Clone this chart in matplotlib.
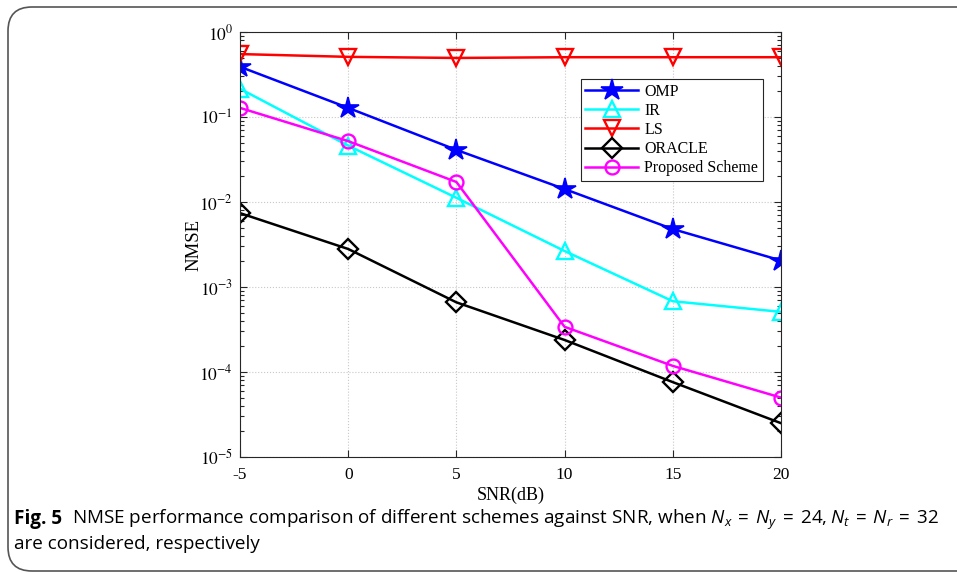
import matplotlib
matplotlib.use("Agg")
import matplotlib.pyplot as plt
from matplotlib.patches import FancyBboxPatch
from matplotlib.ticker import FuncFormatter, LogLocator
import numpy as np

snr = [-5, 0, 5, 10, 15, 20]
omp = [0.39, 0.128, 0.041, 0.0142, 0.0048, 0.00205]
ir = [0.215, 0.046, 0.0112, 0.00265, 0.00068, 0.00051]
ls = [0.55, 0.51, 0.495, 0.505, 0.505, 0.505]
oracle = [0.0074, 0.0028, 0.00066, 0.000238, 7.6e-5, 2.5e-5]
proposed = [0.128, 0.052, 0.0172, 0.00034, 0.000118, 5.0e-5]
labels = ["OMP", "IR", "LS", "ORACLE", "Proposed Scheme"]
xticks = [-5, 0, 5, 10, 15, 20]

cap_font = "Open Sans"

plt.rcParams["font.family"] = ["Liberation Serif", "DejaVu Serif"]
plt.rcParams["mathtext.fontset"] = "stix"
plt.rcParams["mathtext.rm"] = cap_font
plt.rcParams["mathtext.it"] = cap_font + ":italic"

fig = plt.figure(figsize=(9.57, 5.73), dpi=100)

# rounded border
border = FancyBboxPatch((8 / 957, 2 / 573), 1.2, 564 / 573,
                        boxstyle="round,pad=0,rounding_size=0.025",
                        transform=fig.transFigure, fill=False,
                        edgecolor="#555555", linewidth=1.2, clip_on=False,
                        mutation_aspect=957 / 573)
fig.patches.append(border)

ax = fig.add_axes([240 / 957, 1 - 457 / 573, 541 / 957, 425 / 573])
lw = 1.8
ax.plot(snr, omp, color="blue", marker="*", markersize=16, markerfacecolor="blue",
        markeredgewidth=1.2, linewidth=lw, label=labels[0])
ax.plot(snr, ir, color="cyan", marker="^", markersize=11, markerfacecolor="none",
        markeredgewidth=1.7, linewidth=lw, label=labels[1])
ax.plot(snr, ls, color="red", marker="v", markersize=11, markerfacecolor="none",
        markeredgewidth=1.7, linewidth=lw, label=labels[2])
ax.plot(snr, oracle, color="black", marker="D", markersize=10, markerfacecolor="none",
        markeredgewidth=1.7, linewidth=lw, label=labels[3])
ax.plot(snr, proposed, color="magenta", marker="o", markersize=10, markerfacecolor="none",
        markeredgewidth=1.7, linewidth=lw, label=labels[4])

ax.set_yscale("log")
ax.set_xlim(-5, 20)
ax.set_ylim(1e-5, 1)
ax.set_xticks(xticks)
ax.set_xticklabels([str(t) for t in xticks])
ax.yaxis.set_major_locator(LogLocator(base=10, numticks=10))
ax.yaxis.set_major_formatter(FuncFormatter(
    lambda v, p: r"$10^{%d}$" % int(round(np.log10(v)))))
ax.grid(True, which="major", linestyle=":", color="#c8c8c8", linewidth=0.8)
ax.tick_params(which="both", direction="in", top=True, right=True, labelsize=12.5,
               colors="#262626", labelcolor="black")
ax.tick_params(which="major", length=5, width=0.8)
ax.tick_params(axis="x", which="major", pad=7)
ax.tick_params(axis="y", which="major", pad=5)
ax.tick_params(which="minor", length=3, width=0.8)
ax.tick_params(axis="x", which="minor", top=False, bottom=False)
for s in ax.spines.values():
    s.set_color("#262626")
    s.set_linewidth(0.8)
ax.set_xlabel("SNR(dB)", fontsize=13, labelpad=3)
ax.set_ylabel("NMSE", fontsize=13.5, labelpad=-2)

leg = ax.legend(loc="upper right", bbox_to_anchor=(0.967, 0.89), fontsize=11.5,
                handlelength=3.3, fancybox=False, edgecolor="#262626",
                framealpha=1, borderpad=0.3, labelspacing=0.2, handletextpad=0.4,
                borderaxespad=0)
leg.get_frame().set_linewidth(0.8)

# caption
fig.canvas.draw()
r = fig.canvas.get_renderer()
cs = 13.6
t1 = fig.text(14 / 957, 1 - 524 / 573, "Fig. 5", fontsize=cs, fontweight="bold",
              family=[cap_font], va="baseline", ha="left")
ext = t1.get_window_extent(r)
fig.text((ext.x1 + 10) / 957, 1 - 524 / 573,
         r"NMSE performance comparison of different schemes against SNR, when "
         r"$N_x\:=\:N_y\:=\:24, N_t\:=\:N_r\:=\:32$",
         fontsize=cs, family=[cap_font], va="baseline", ha="left",
         math_fontfamily="custom")
fig.text(14 / 957, 1 - 549 / 573, "are considered, respectively", fontsize=cs,
         family=[cap_font], va="baseline", ha="left")

fig.savefig("out.png", dpi=100)
